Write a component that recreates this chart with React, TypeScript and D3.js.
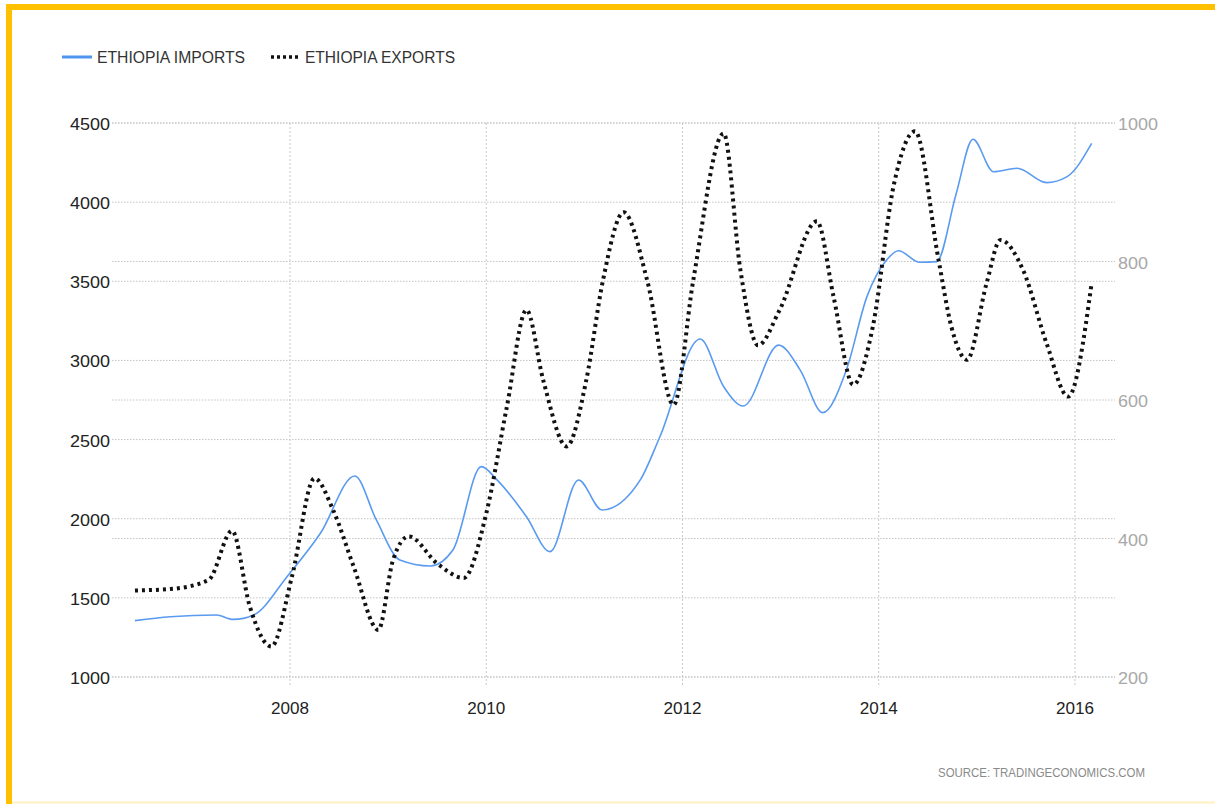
import React from "react";
import * as d3 from "d3";

// ---- Data ----
const importYears = [2006.42, 2006.78, 2007.25, 2007.42, 2007.63, 2007.97, 2008.31, 2008.66, 2008.88, 2009.12, 2009.43, 2009.66, 2009.95, 2010.11, 2010.41, 2010.65, 2010.94, 2011.18, 2011.57, 2011.77, 2012.18, 2012.42, 2012.62, 2012.98, 2013.2, 2013.43, 2013.67, 2013.88, 2014.08, 2014.2, 2014.42, 2014.59, 2014.79, 2014.96, 2015.17, 2015.41, 2015.71, 2015.92, 2016.17];
const importValues = [1356, 1381, 1392, 1364, 1392, 1634, 1908, 2270, 1992, 1739, 1701, 1802, 2329, 2245, 2013, 1792, 2245, 2055, 2245, 2518, 3135, 2834, 2712, 3097, 2939, 2670, 2939, 3403, 3634, 3693, 3620, 3624, 4055, 4397, 4192, 4214, 4123, 4161, 4371];

const exportYears = [2006.42, 2006.78, 2007.17, 2007.41, 2007.59, 2007.81, 2008.02, 2008.25, 2008.44, 2008.65, 2008.9, 2009.05, 2009.21, 2009.5, 2009.77, 2010.0, 2010.21, 2010.41, 2010.58, 2010.82, 2011.02, 2011.19, 2011.4, 2011.64, 2011.91, 2012.11, 2012.42, 2012.59, 2012.77, 2012.99, 2013.37, 2013.54, 2013.74, 2013.94, 2014.15, 2014.37, 2014.61, 2014.74, 2014.9, 2015.1, 2015.24, 2015.47, 2015.71, 2015.93, 2016.17];
const exportValues = [325, 327, 340, 411, 302, 244, 345, 487, 441, 359, 268, 369, 403, 364, 343, 436, 590, 730, 629, 533, 629, 773, 871, 773, 593, 773, 985, 788, 679, 730, 858, 749, 622, 706, 908, 988, 802, 706, 658, 769, 831, 788, 682, 605, 769];

const leftTicks = [1000, 1500, 2000, 2500, 3000, 3500, 4000, 4500];
const rightTicks = [200, 400, 600, 800, 1000];
const yearTicks = [2008, 2010, 2012, 2014, 2016];

const legendLabels = ["ETHIOPIA IMPORTS", "ETHIOPIA EXPORTS"];
const sourceLabel = "SOURCE: TRADINGECONOMICS.COM";

const FONT = "'Liberation Sans Narrow', 'Liberation Sans', Arial, sans-serif";

export default function App() {
  const W = 1215;
  const H = 804;
  const x0 = 112, x1 = 1115, yTop = 123, yBot = 677;

  const x = d3.scaleLinear().domain([2006.186, 2016.408]).range([x0, x1]);
  const yL = d3.scaleLinear().domain([1000, 4500]).range([yBot, yTop]);
  const yR = d3.scaleLinear().domain([200, 1000]).range([yBot, yTop]);

  const imports = importYears.map((t, i) => [t, importValues[i]] as [number, number]);
  const exports_ = exportYears.map((t, i) => [t, exportValues[i]] as [number, number]);

  const lineImp = d3.line<[number, number]>().x((d) => x(d[0])).y((d) => yL(d[1])).curve(d3.curveMonotoneX);
  const lineExp = d3.line<[number, number]>().x((d) => x(d[0])).y((d) => yR(d[1])).curve(d3.curveMonotoneX);

  return (
    <svg width={W} height={H} style={{ position: "absolute", left: 0, top: 0, background: "#fff" }}>
      <rect x={0} y={0} width={W} height={H} fill="#fff" />
      {/* border (top and left visible, bottom faint) */}
      <rect x={9} y={7} width={W + 20} height={H + 40} fill="none" stroke="#FFC000" strokeWidth={6} />
      <line x1={12} x2={W} y1={802.5} y2={802.5} stroke="#FFF2C0" strokeWidth={2} />

      {/* legend */}
      <line x1={62} x2={92} y1={57} y2={57} stroke="#4F94EE" strokeWidth={3} />
      <text x={97} y={63} fontFamily={FONT} fontSize={16} fill="#333" textLength={148} lengthAdjust="spacingAndGlyphs">{legendLabels[0]}</text>
      <line x1={271} x2={300} y1={57} y2={57} stroke="#111" strokeWidth={3.5} strokeDasharray="3 3" />
      <text x={305} y={63} fontFamily={FONT} fontSize={16} fill="#333" textLength={150} lengthAdjust="spacingAndGlyphs">{legendLabels[1]}</text>

      {/* vertical grid */}
      {yearTicks.map((t) => (
        <line key={"v" + t} x1={x(t)} x2={x(t)} y1={yTop} y2={yBot + 9} stroke="#C8C8C8" strokeWidth={1} strokeDasharray="2 2" />
      ))}
      {/* horizontal grid */}
      {leftTicks.map((t) => (
        <line key={"hl" + t} x1={x0} x2={x1} y1={yL(t)} y2={yL(t)} stroke="#C4C4C4" strokeWidth={1} strokeDasharray="1.5 1.5" />
      ))}
      {rightTicks.map((t) => (
        <line key={"hr" + t} x1={x0} x2={x1} y1={yR(t)} y2={yR(t)} stroke="#C4C4C4" strokeWidth={1} strokeDasharray="1.5 1.5" />
      ))}

      {/* left axis labels */}
      {leftTicks.map((t) => (
        <text key={"ll" + t} x={110} y={yL(t) + 7} textAnchor="end" fontFamily={FONT} fontSize={17} fill="#222" textLength={40} lengthAdjust="spacingAndGlyphs">{String(t)}</text>
      ))}
      {/* right axis labels */}
      {rightTicks.map((t) => (
        <text key={"rl" + t} x={1118} y={yR(t) + 7} textAnchor="start" fontFamily={FONT} fontSize={17} fill="#A8A8A8" textLength={t >= 1000 ? 40 : 30} lengthAdjust="spacingAndGlyphs">{String(t)}</text>
      ))}
      {/* x labels */}
      {yearTicks.map((t) => (
        <text key={"xl" + t} x={x(t)} y={714} textAnchor="middle" fontFamily={FONT} fontSize={17} fill="#222" textLength={38} lengthAdjust="spacingAndGlyphs">{String(t)}</text>
      ))}

      {/* series */}
      <path d={lineImp(imports) || ""} fill="none" stroke="#5A9BF0" strokeWidth={1.6} />
      <path d={lineExp(exports_) || ""} fill="none" stroke="#111" strokeWidth={4} strokeDasharray="3 4" />

      {/* source */}
      <text x={938} y={777} fontFamily={FONT} fontSize={13} fill="#8A8A8A" textLength={207} lengthAdjust="spacingAndGlyphs">{sourceLabel}</text>
    </svg>
  );
}
